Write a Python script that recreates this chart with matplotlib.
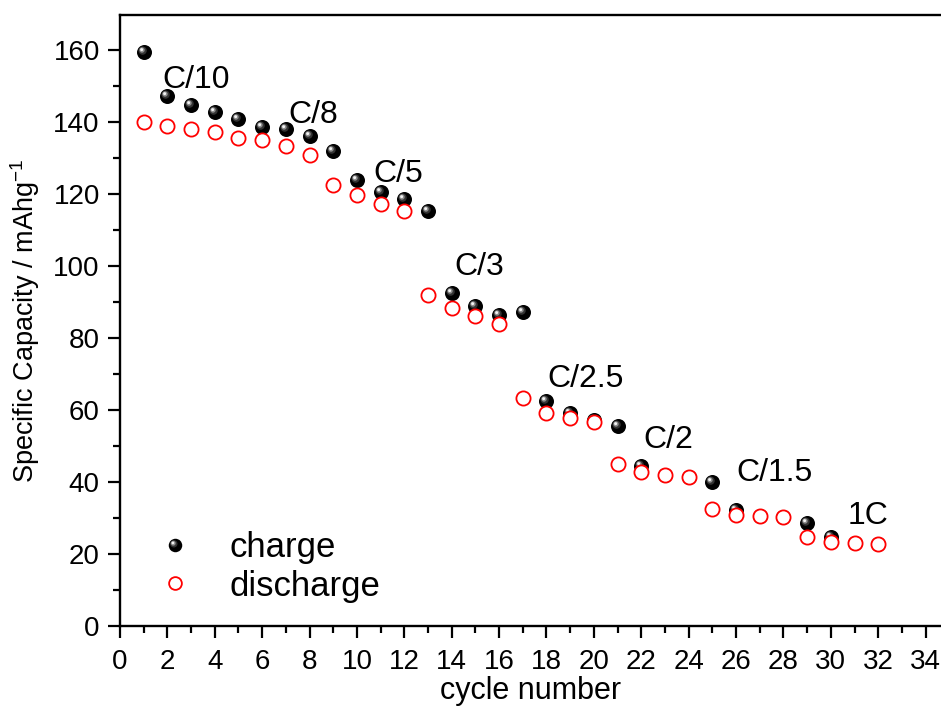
import matplotlib.pyplot as plt
import numpy as np
from matplotlib.path import Path
from matplotlib.legend_handler import HandlerTuple

plt.rcParams['font.family'] = ['Liberation Sans', 'DejaVu Sans']
plt.rcParams['mathtext.fontset'] = 'custom'
plt.rcParams['mathtext.rm'] = 'Liberation Sans'

cycles = np.arange(1, 33)
charge = [159.5, 147.1, 144.8, 142.8, 140.9, 138.6, 138.1, 136.1, 132.0, 123.8,
          120.6, 118.5, 115.3, 92.4, 89.0, 86.4, 87.1, 62.5, 59.2, 57.3,
          55.5, 44.5, 42.0, 41.5, 40.1, 32.3, 30.6, 30.4, 28.5, 24.7,
          23.1, 22.8]
discharge = [140.1, 138.9, 138.0, 137.3, 135.5, 134.9, 133.2, 130.7, 122.4, 119.6,
             117.3, 115.3, 91.8, 88.2, 86.0, 83.9, 63.4, 59.1, 57.7, 56.6,
             45.0, 42.8, 42.0, 41.5, 32.5, 30.9, 30.6, 30.4, 24.6, 23.4,
             23.1, 22.8]

rate_labels = ['C/10', 'C/8', 'C/5', 'C/3', 'C/2.5', 'C/2', 'C/1.5', '1C']
rate_x = [3.2, 8.16, 11.76, 15.15, 19.66, 23.14, 27.62, 31.57]
rate_y = [149.4, 139.6, 123.4, 97.5, 66.4, 49.4, 40.4, 28.3]


def spot(cx, cy, r):
    # highlight circle inside the ball marker; the two moveto points fix the scale
    frame = Path([(-1, -1), (1, 1)], [Path.MOVETO, Path.MOVETO])
    return Path.make_compound_path(frame, Path.circle((cx, cy), r))


fig = plt.figure(figsize=(9.41, 7.08), dpi=100)
ax = fig.add_axes([0.1275, 0.1158, 0.8725, 0.863])

ms = 10.8
base, = ax.plot(cycles, charge, 'o', color='black', markersize=ms,
                markeredgewidth=0, zorder=3)
shine = []
for (cx, cy, r, c) in [(-0.25, 0.25, 0.55, '#333333'),
                       (-0.33, 0.33, 0.36, '#8c8c8c'),
                       (-0.38, 0.38, 0.2, '#f2f2f2')]:
    h, = ax.plot(cycles, charge, linestyle='none', marker=spot(cx, cy, r),
                 color=c, markersize=ms, markeredgewidth=0, zorder=3)
    shine.append(h)

dis, = ax.plot(cycles, discharge, 'o', markerfacecolor='white',
               markeredgecolor='red', markersize=10.2, markeredgewidth=1.3,
               zorder=4)

for lab, x, y in zip(rate_labels, rate_x, rate_y):
    ax.text(x, y, lab, fontsize=23, ha='center', va='baseline', zorder=5)

ax.set_xlim(0, 34.65)
ax.set_ylim(0, 169.7)
ax.set_xticks(np.arange(0, 35, 2))
ax.set_xticks(np.arange(1, 35, 2), minor=True)
ax.set_yticks(np.arange(0, 161, 20))
ax.set_yticks(np.arange(10, 170, 20), minor=True)

ax.spines['right'].set_visible(False)
for s in ['left', 'bottom', 'top']:
    ax.spines[s].set_linewidth(1.7)
ax.tick_params(which='major', direction='out', length=8.5, width=1.6,
               labelsize=20, pad=6)
ax.tick_params(axis='x', which='major', pad=8)
ax.tick_params(which='minor', direction='out', length=4.8, width=1.6)
ax.tick_params(top=False, right=False)

ax.set_xlabel('cycle number', fontsize=22, labelpad=1)
ax.set_ylabel('Specific Capacity / mAhg$^{-1}$', fontsize=19.5, labelpad=8)

leg = ax.legend([(base, *shine), dis], ['charge', 'discharge'],
                handler_map={tuple: HandlerTuple(ndivide=1)},
                loc='center left', bbox_to_anchor=(0.0458, 0.0966),
                frameon=False, fontsize=25, handlelength=1.0,
                handletextpad=1.06, labelspacing=0.15, borderpad=0,
                borderaxespad=0, markerscale=0.9)

fig.savefig('out.png', dpi=100)
